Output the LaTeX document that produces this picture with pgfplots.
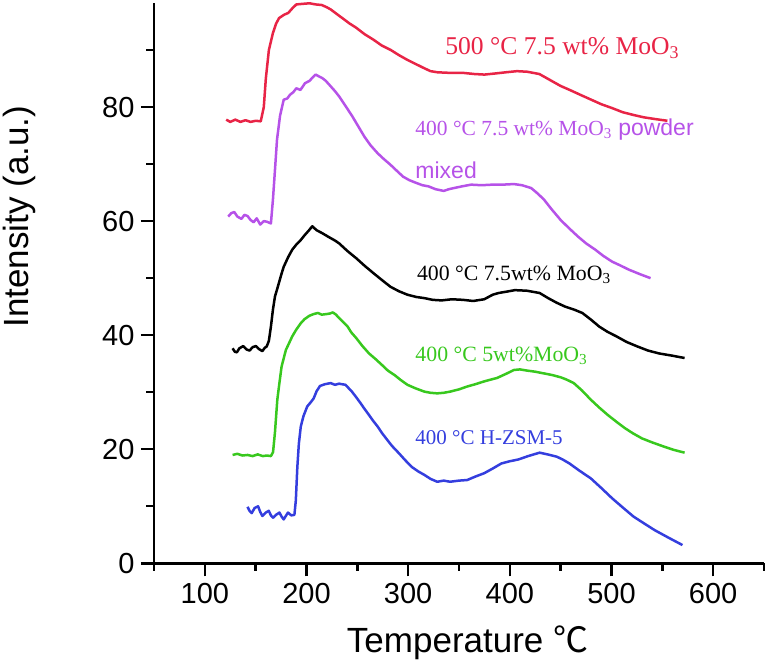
\documentclass[border=0pt]{standalone}
\usepackage{fontspec}
\setmainfont{Liberation Sans}
\newfontfamily\serifT{Liberation Serif}
\newfontfamily\cjk{Noto Sans CJK SC}
\usepackage{pgfplots}
\pgfplotsset{compat=1.18}
\definecolor{cred}{RGB}{232,36,70}
\definecolor{cpurple}{RGB}{182,82,232}
\definecolor{cgreen}{RGB}{56,200,30}
\definecolor{cblue}{RGB}{52,62,222}
\begin{document}
\begin{tikzpicture}
\useasboundingbox (-154pt,-101.7pt) rectangle (618pt,563.3pt);
\begin{axis}[
  at={(0,0)}, anchor=south west,
  scale only axis, width=610pt, height=560pt,
  xmin=50, xmax=650, ymin=0, ymax=98.2,
  axis x line*=bottom, axis y line*=left,
  axis line style={-, line width=2.6pt, black},
  xtick={100,200,...,600}, minor xtick={50,150,...,650},
  ytick={0,20,...,80}, minor ytick={10,30,...,90},
  tick align=outside,
  major tick length=13pt, minor tick length=7.5pt,
  tick style={line width=2.4pt, black},
  /pgf/number format/assume math mode=true,
  ticklabel style={font=\fontsize{29}{32}\selectfont},
  xticklabel shift=3pt, yticklabel shift=3pt,
  xlabel={Temperature {\cjk ℃}},
  ylabel={Intensity (a.u.)},
  label style={font=\fontsize{35}{40}\selectfont},
  xlabel style={at={(axis description cs:0.514,-0.1596)}, anchor=base},
  ylabel style={at={(axis description cs:-0.2213,0.619)}, anchor=center},
  every axis plot/.append style={line width=2.5pt, mark=none, line join=round},
  clip=false,
]
% red: 500 C 7.5 wt% MoO3
\addplot[cred] coordinates {
(121,77.8)(125,77.4)(130,77.8)(135,77.4)(140,77.7)(145,77.4)(150,77.6)(155,77.5)
(158,80)(160,85)(163,90)(167,93)(170,94.6)(173,95.6)(178,96.2)(182,96.5)(186,97.3)(190,98)
(196,98.1)(203,98.2)(209,98.0)(215,97.9)(220,97.5)(224,97.1)(230,96.3)(236,95.5)(242,94.7)(249,93.9)
(257,92.8)(266,91.8)(274,90.8)(283,90)(291,89.1)(299,88.3)(308,87.5)(316,86.8)(322,86.3)(329,86.1)
(341,86.0)(354,86.0)(365,85.8)(375,85.7)(386,85.9)(396,86.1)(407,86.3)(417,86.2)(423,86.0)(429,85.8)
(435,85.2)(442,84.5)(450,83.7)(459,83)(470,82.1)(480,81.3)(490,80.5)(501,79.8)(511,79.1)(522,78.6)
(532,78.2)(543,77.9)(555,77.6)};
% purple: 400 C 7.5 wt% MoO3 powder mixed
\addplot[cpurple] coordinates {
(123,60.8)(126,61.4)(129,61.6)(132,60.8)(136,60.4)(139,61.1)(142,60.9)(145,60.2)(148,59.8)(151,60.5)
(154.5,59.4)(158,60.0)(161,59.9)(165,59.6)(167,63.8)(169,69)(171,74.3)(174,78.5)(177.6,81.3)(181,81.5)
(184,82.2)(187,82.6)(190,83.3)(194,83.0)(198.6,84.2)(203,84.6)(206,85.2)(209,85.7)(212,85.4)(215.4,85.1)
(219,84.6)(224,83.6)(228,82.8)(232,81.9)(238,80.3)(245,78.4)(251,76.6)(257,74.8)(263,73.3)(270,71.9)
(276,70.9)(282.5,69.9)(289,68.8)(295,67.8)(301,67.2)(308,66.7)(314,66.3)(320,66.1)(327,65.6)(335,65.3)
(340,65.6)(345,65.8)(353,66.1)(362,66.4)(372,66.3)(383,66.4)(393,66.4)(404,66.5)(412,66.3)(421,65.8)
(427,64.9)(433.5,63.8)(441,62.1)(450,60.2)(458,58.8)(467,57.3)(475,56.1)(484,55)(492,53.9)(500.6,52.9)
(509,52.2)(517,51.5)(528,50.7)(538.4,50)};
% black: 400 C 7.5wt% MoO3
\addplot[black] coordinates {
(127.3,37.7)(129.5,37.1)(131.5,37.0)(134,37.7)(137.8,38.1)(141,37.5)(144,37.3)(147,37.9)(150.3,38.1)
(153,37.6)(156.6,37.2)(159,37.8)(160.8,38.0)(163,39)(165,41.5)(167,44.5)(169,46.8)(171,48.0)(173.4,49.5)
(175.5,50.8)(177.6,52)(182,53.7)(186,55)(190,55.9)(194.4,56.7)(198,57.5)(202,58.3)(205.7,59.1)(210,58.4)
(215.4,57.9)(222,57.2)(228,56.6)(232.1,56.1)(240,54.8)(248.9,53.5)(257,52.2)(265.7,50.9)(274,49.7)
(282.5,48.5)(291,47.7)(299.3,47.1)(308,46.7)(316,46.5)(324,46.2)(332.8,46.1)(343,46.3)(353.8,46.2)
(364,46.0)(374.8,46.3)(383.2,47.1)(389,47.4)(395.7,47.6)(405,47.9)(416.7,47.8)(423,47.6)(429.3,47.4)
(437.7,46.5)(446,45.7)(454.5,45)(463,44.5)(471.3,43.9)(480,42.7)(488,41.5)(496,40.6)(504.8,39.8)
(515,38.8)(525.8,38)(536,37.3)(546.8,36.8)(560,36.4)(571.9,36)};
% green: 400 C 5wt% MoO3
\addplot[cgreen] coordinates {
(127.3,19.0)(132,19.2)(137,18.9)(142,19.0)(147,18.8)(152,19.1)(157,18.8)(161,18.9)(165,18.8)(167.1,19.5)
(169,23)(171.3,28.7)(173.5,31.8)(175.5,34.5)(179.7,37.4)(186,39.8)(190,41.0)(194.4,42.1)(198,42.8)
(202.8,43.4)(207,43.7)(211.2,43.9)(215,43.6)(219.6,43.7)(223,43.8)(225.9,44.0)(229,43.6)(232.1,43)
(236,42.3)(240.5,41.5)(244,40.5)(248.9,39.5)(255,38.1)(261.5,36.8)(268,35.8)(274.1,34.8)(280,33.8)
(286.7,33)(293,32.1)(299.3,31.3)(307,30.7)(316,30.1)(322,29.9)(328.6,29.8)(335,29.9)(341.2,30.1)
(350,30.5)(358,31)(366,31.4)(374.8,31.9)(381,32.2)(387.4,32.5)(396,33.2)(404.1,33.9)(410,34.0)(416.7,33.8)
(425,33.6)(433.5,33.3)(442,33.0)(450.3,32.6)(456,32.2)(462.9,31.6)(471,30.3)(479.6,28.7)(488,27.3)
(496.4,26)(505,24.8)(513.2,23.7)(521,22.8)(530,21.9)(540,21.2)(551,20.5)(561,19.9)(571.9,19.4)};
% blue: 400 C H-ZSM-5
\addplot[cblue] coordinates {
(142,9.9)(144,9.2)(146.1,8.8)(149,9.7)(152.4,10.0)(154.5,9.0)(156.6,8.3)(160,8.9)(162.9,9.2)(165,8.4)
(167.1,8.0)(170,8.5)(173.4,8.9)(175.5,8.2)(177.6,7.7)(180,8.4)(181.8,8.9)(185,8.4)(188.1,8.5)(189.5,11)
(191,16.9)(192.5,21)(194.4,24)(197,25.8)(200.7,27.5)(204,28.2)(207,28.9)(210,30.2)(213.3,31.1)(218,31.4)
(223.8,31.6)(228,31.3)(232.1,31.5)(235,31.4)(238.4,31.3)(241,30.8)(244.7,30.1)(249,29.1)(253.1,28.1)
(257,27.1)(261.5,26)(265.5,25)(269.9,24)(274,22.9)(278.3,21.9)(284,20.6)(290.9,19.3)(297,18.1)
(303.5,16.9)(310,16.1)(316,15.5)(322,14.8)(328.6,14.3)(335,14.5)(341.2,14.3)(350,14.5)(358,14.6)
(366,15.2)(374.8,15.8)(383,16.6)(391.6,17.5)(400,17.9)(408.3,18.2)(418,18.8)(429.3,19.4)(437,19.1)
(446.1,18.7)(452,18.2)(458.7,17.5)(468,16.3)(479.6,14.9)(490,13.2)(500.6,11.4)(511,9.8)(521.6,8.2)
(532,7)(542.6,5.8)(556,4.5)(569.8,3.2)};
\node[anchor=base west, text=cred, font=\serifT\fontsize{25.6}{28}\selectfont, inner sep=0pt] at (axis cs:336.4,89.2) {500 °C 7.5 wt\% MoO\textsubscript{3}};
\node[anchor=base west, text=cpurple, font=\fontsize{23}{26}\selectfont, inner sep=0pt] at (axis cs:307,75.1) {{\serifT\fontsize{21.5}{24}\selectfont 400 °C 7.5 wt\% MoO\textsubscript{3}} powder};
\node[anchor=base west, text=cpurple, font=\fontsize{23}{26}\selectfont, inner sep=0pt] at (axis cs:307,67.4) {mixed};
\node[anchor=base west, text=black, font=\serifT\fontsize{21.8}{24}\selectfont, inner sep=0pt] at (axis cs:308.5,49.6) {400 °C 7.5wt\% MoO\textsubscript{3}};
\node[anchor=base west, text=cgreen, font=\serifT\fontsize{21.8}{24}\selectfont, inner sep=0pt] at (axis cs:307,35.4) {400 °C 5wt\%MoO\textsubscript{3}};
\node[anchor=base west, text=cblue, font=\serifT\fontsize{21}{24}\selectfont, inner sep=0pt] at (axis cs:307,20.8) {400 °C H-ZSM-5};
\end{axis}
\end{tikzpicture}
\end{document}
